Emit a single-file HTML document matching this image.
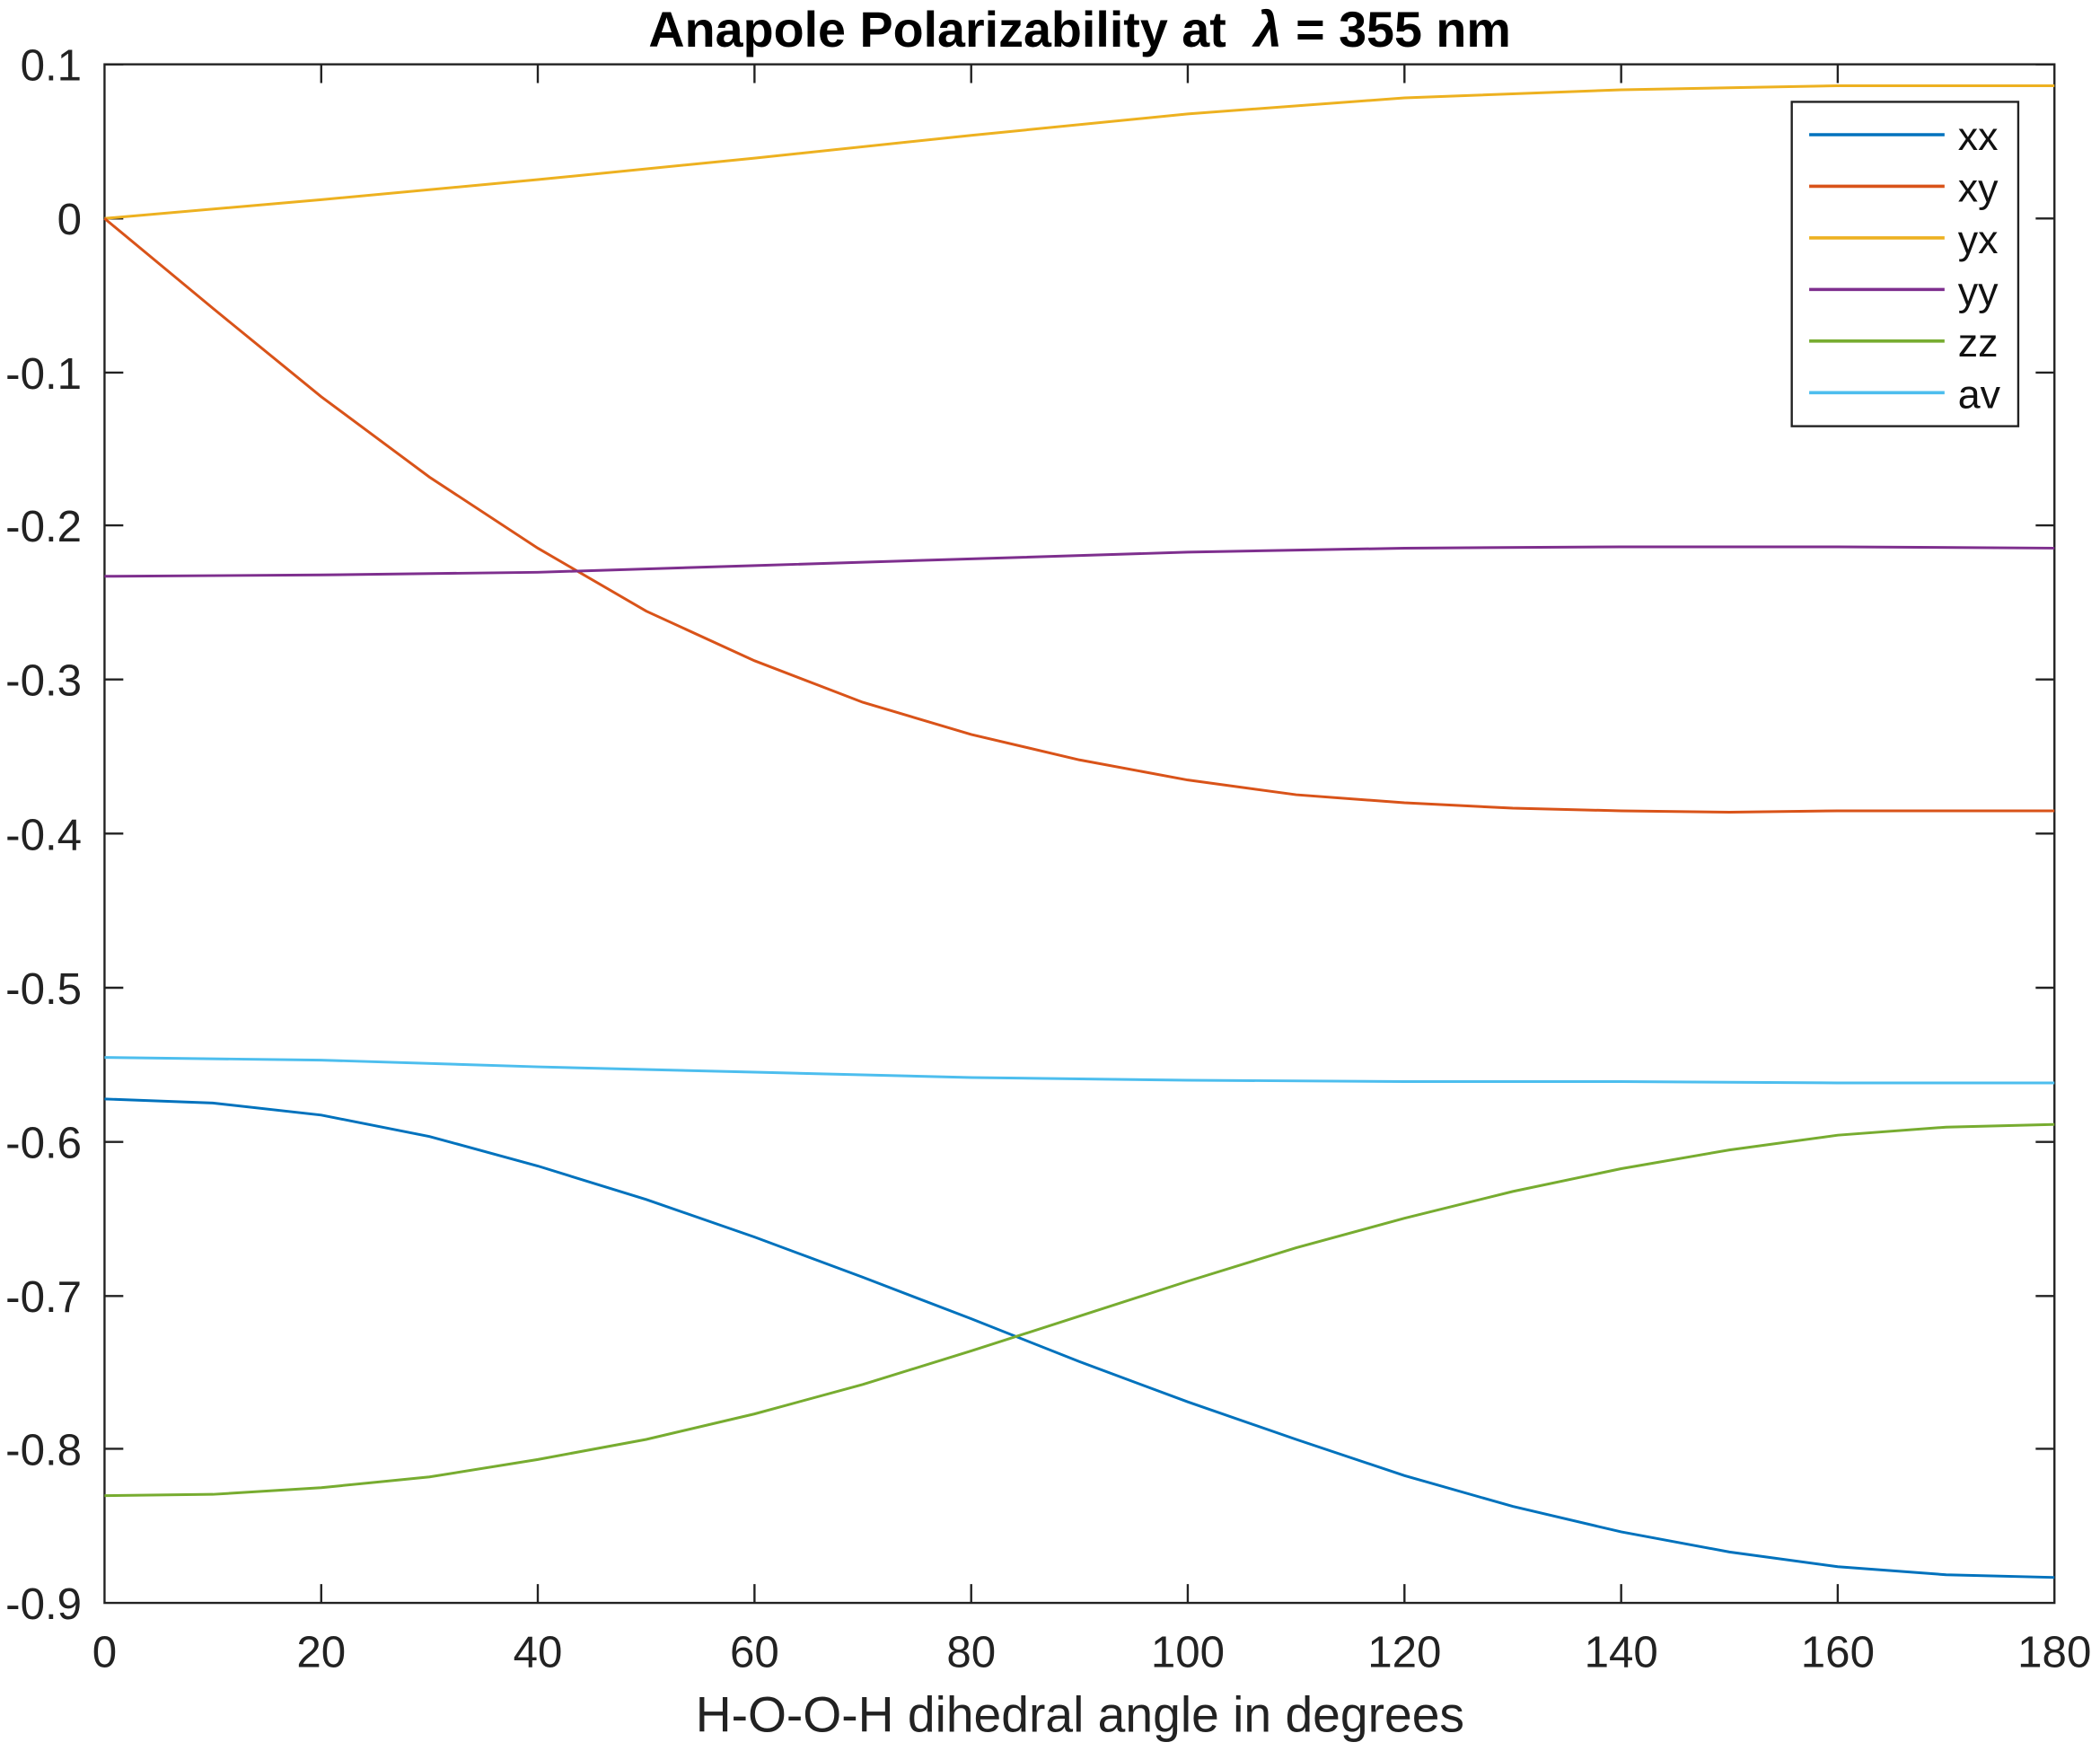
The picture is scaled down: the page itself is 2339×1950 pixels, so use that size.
<!DOCTYPE html>
<html><head><meta charset="utf-8"><style>html,body{margin:0;padding:0;background:#fff}svg{display:block}</style></head>
<body>
<svg width="2339" height="1950" viewBox="0 0 1567 1306.5" preserveAspectRatio="none" xmlns="http://www.w3.org/2000/svg" font-family="Liberation Sans, sans-serif">
<rect width="1567" height="1306.5" fill="#fff"/>
<g stroke="#222" stroke-width="1.6" fill="none">
<rect x="78" y="48" width="1455" height="1148"/>
<path d="M78,48h14M78,163h14M78,278h14M78,392h14M78,507h14M78,622h14M78,737h14M78,852h14M78,967h14M78,1081h14
M1533,48h-14M1533,163h-14M1533,278h-14M1533,392h-14M1533,507h-14M1533,622h-14M1533,737h-14M1533,852h-14M1533,967h-14M1533,1081h-14
M239.7,1196v-14M401.3,1196v-14M563,1196v-14M724.7,1196v-14M886.3,1196v-14M1048,1196v-14M1209.7,1196v-14M1371.3,1196v-14
M239.7,48v14M401.3,48v14M563,48v14M724.7,48v14M886.3,48v14M1048,48v14M1209.7,48v14M1371.3,48v14"/>
</g>
<g font-size="33" fill="#222" text-anchor="end">
<text x="61" y="60">0.1</text><text x="61" y="175">0</text><text x="61" y="290">-0.1</text><text x="61" y="404">-0.2</text><text x="61" y="519">-0.3</text><text x="61" y="634">-0.4</text><text x="61" y="749">-0.5</text><text x="61" y="864">-0.6</text><text x="61" y="979">-0.7</text><text x="61" y="1093">-0.8</text><text x="61" y="1208">-0.9</text>
</g>
<g font-size="33" fill="#222" text-anchor="middle">
<text x="78" y="1244">0</text><text x="239.7" y="1244">20</text><text x="401.3" y="1244">40</text><text x="563" y="1244">60</text><text x="724.7" y="1244">80</text><text x="886.3" y="1244">100</text><text x="1048" y="1244">120</text><text x="1209.7" y="1244">140</text><text x="1371.3" y="1244">160</text><text x="1533" y="1244">180</text>
</g>
<text x="519" y="1292" font-size="37" fill="#222">H-O-O-H dihedral angle in degrees</text>
<text x="484" y="35" font-size="37.3" font-weight="bold" fill="#000" xml:space="preserve">Anapole Polarizability at  <tspan font-style="italic">λ</tspan> = 355 nm</text>
<g fill="none" stroke-width="2">
<polyline stroke="#EDB120" points="78,163 239.7,149 401.3,134 563,118 724.7,101 886.3,85 1048,73 1209.7,67 1371.3,64 1533,64"/>
<polyline stroke="#D95319" points="78,163 158.8,230 239.7,296 320.5,356 401.3,409 482.2,456 563,493 643.8,524 724.7,548 805.5,567 886.3,582 967.2,593 1048,599 1128.8,603 1209.7,605 1290.5,606 1371.3,605 1452.2,605 1533,605"/>
<polyline stroke="#7E2F8E" points="78,430 239.7,429 401.3,427 563,422 724.7,417 886.3,412 1048,409 1209.7,408 1371.3,408 1533,409"/>
<polyline stroke="#4DBEEE" points="78,789 239.7,791 401.3,796 563,800 724.7,804 886.3,806 1048,807 1209.7,807 1371.3,808 1533,808"/>
<polyline stroke="#0072BD" points="78,820 158.8,823 239.7,832 320.5,848 401.3,870 482.2,895 563,923 643.8,953 724.7,984 805.5,1016 886.3,1046 967.2,1074 1048,1101 1128.8,1124 1209.7,1143 1290.5,1158 1371.3,1169 1452.2,1175 1533,1177"/>
<polyline stroke="#77AC30" points="78,1116 158.8,1115 239.7,1110 320.5,1102 401.3,1089 482.2,1074 563,1055 643.8,1033 724.7,1008 805.5,982 886.3,956 967.2,931 1048,909 1128.8,889 1209.7,872 1290.5,858 1371.3,847 1452.2,841 1533,839"/>
</g>
<rect x="1337" y="76" width="169" height="242" fill="#fff" stroke="#222" stroke-width="1.6"/>
<g stroke-width="2.4">
<line x1="1350" x2="1451" y1="100.5" y2="100.5" stroke="#0072BD"/>
<line x1="1350" x2="1451" y1="139" y2="139" stroke="#D95319"/>
<line x1="1350" x2="1451" y1="177.5" y2="177.5" stroke="#EDB120"/>
<line x1="1350" x2="1451" y1="216" y2="216" stroke="#7E2F8E"/>
<line x1="1350" x2="1451" y1="254.5" y2="254.5" stroke="#77AC30"/>
<line x1="1350" x2="1451" y1="293" y2="293" stroke="#4DBEEE"/>
</g>
<g font-size="30" fill="#111">
<text x="1461" y="112">xx</text><text x="1461" y="150.5">xy</text><text x="1461" y="189">yx</text><text x="1461" y="227.5">yy</text><text x="1461" y="266">zz</text><text x="1461" y="304.5">av</text>
</g>
</svg>
</body></html>
